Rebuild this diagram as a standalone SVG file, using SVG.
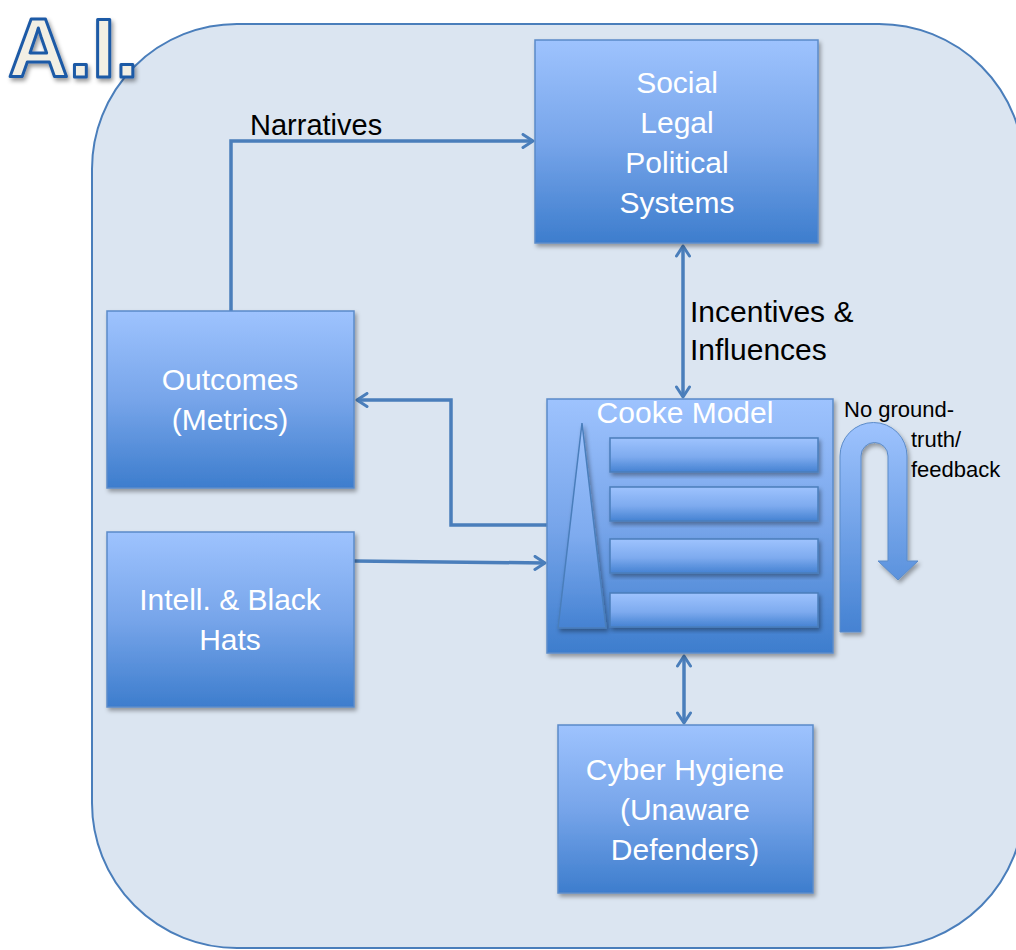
<svg xmlns="http://www.w3.org/2000/svg" width="1016" height="950" viewBox="0 0 1016 950">
<defs>
<linearGradient id="boxGrad" x1="0" y1="0" x2="0" y2="1">
<stop offset="0" stop-color="#9ec3fe"/>
<stop offset="0.5" stop-color="#77a5ea"/>
<stop offset="1" stop-color="#3d7dcd"/>
</linearGradient>
<linearGradient id="barGrad" x1="0" y1="0" x2="0" y2="1">
<stop offset="0" stop-color="#9ec3fe"/>
<stop offset="0.55" stop-color="#7eabef"/>
<stop offset="1" stop-color="#4582d2"/>
</linearGradient>
<linearGradient id="uGrad" gradientUnits="userSpaceOnUse" x1="0" y1="423" x2="0" y2="632">
<stop offset="0" stop-color="#9ec3fe"/>
<stop offset="1" stop-color="#4582d2"/>
</linearGradient>
<filter id="shadow" x="-10%" y="-10%" width="130%" height="130%">
<feDropShadow dx="2" dy="3" stdDeviation="2" flood-color="#000" flood-opacity="0.35"/>
</filter>
<filter id="titleShadow" x="-10%" y="-10%" width="130%" height="130%">
<feDropShadow dx="2" dy="3" stdDeviation="2" flood-color="#000" flood-opacity="0.4"/>
</filter>
<marker id="arr" viewBox="0 0 14 16" refX="12" refY="8" markerWidth="14" markerHeight="16" markerUnits="userSpaceOnUse" orient="auto-start-reverse">
<path d="M2,1.5 L12,8 L2,14.5" fill="none" stroke="#4a7ebb" stroke-width="3" stroke-linecap="round" stroke-linejoin="round"/>
</marker>
<style>
.box{fill:url(#boxGrad);stroke:#5b8bc9;stroke-width:1.5;filter:url(#shadow)}
.bar{fill:url(#barGrad);stroke:#4a7ebb;stroke-width:1.5;filter:url(#shadow)}
.btxt{font-family:"Liberation Sans","Open Sans",sans-serif;font-size:30px;fill:#ffffff;text-anchor:middle}
.ltxt{font-family:"Liberation Sans","Open Sans",sans-serif;fill:#000000}
.conn{fill:none;stroke:#4a7ebb;stroke-width:3.5;stroke-linejoin:miter}
</style>
</defs>
<rect width="1016" height="950" fill="#ffffff"/>
<g id="container">
<rect x="92" y="24" width="932" height="924" rx="145" ry="145" fill="#dbe5f1" stroke="#4a7ebb" stroke-width="2"/>
</g>
<g id="title">
<text x="8" y="77" font-family="Liberation Sans, Open Sans, sans-serif" font-weight="bold" font-size="84" fill="#f2efe4" stroke="#1f5aa6" stroke-width="3" stroke-linejoin="round" filter="url(#titleShadow)">A.I.</text>
</g>
<g id="connectors">
<polyline class="conn" points="231,311 231,141 533,141" marker-end="url(#arr)"/>
<line class="conn" x1="683" y1="246" x2="683" y2="397" marker-start="url(#arr)" marker-end="url(#arr)"/>
<polyline class="conn" points="547,525 451,525 451,400 357,400" marker-end="url(#arr)"/>
<line class="conn" x1="354" y1="561" x2="545" y2="563" marker-end="url(#arr)"/>
<line class="conn" x1="684" y1="656" x2="684" y2="723" marker-start="url(#arr)" marker-end="url(#arr)"/>
<text class="ltxt" x="250" y="135" font-size="29">Narratives</text>
<text class="ltxt" x="690" y="322" font-size="30">Incentives &amp;</text>
<text class="ltxt" x="690" y="360" font-size="30">Influences</text>
</g>
<g id="social">
<rect class="box" x="535" y="40" width="283" height="203"/>
<text class="btxt" x="677" y="93">Social</text>
<text class="btxt" x="677" y="133">Legal</text>
<text class="btxt" x="677" y="173">Political</text>
<text class="btxt" x="677" y="213">Systems</text>
</g>
<g id="outcomes">
<rect class="box" x="107" y="311" width="247" height="177"/>
<text class="btxt" x="230" y="390">Outcomes</text>
<text class="btxt" x="230" y="430">(Metrics)</text>
</g>
<g id="intell">
<rect class="box" x="107" y="532" width="247" height="175"/>
<text class="btxt" x="230" y="610">Intell. &amp; Black</text>
<text class="btxt" x="230" y="650">Hats</text>
</g>
<g id="cooke">
<rect class="box" x="547" y="399" width="286" height="254"/>
<text x="685" y="423" font-family="Liberation Sans, Open Sans, sans-serif" font-size="30" fill="#ffffff" text-anchor="middle">Cooke Model</text>
<polygon class="bar" points="582,423 606,628 558,628"/>
<rect class="bar" x="610" y="438" width="208" height="34"/>
<rect class="bar" x="610" y="487" width="208" height="34"/>
<rect class="bar" x="610" y="539" width="208" height="34"/>
<rect class="bar" x="610" y="593" width="208" height="34"/>
</g>
<g id="feedback">
<path d="M840,632 L840,456 A33.5,33.5 0 0 1 907,456 L907,561 L918,561 L898,580 L878,561 L888,561 L888,456 A13.5,13.5 0 0 0 861,456 L861,632 Z" fill="url(#uGrad)" stroke="#5b8bc9" stroke-width="1" filter="url(#shadow)"/>
<text class="ltxt" x="844" y="417" font-size="22">No ground-</text>
<text class="ltxt" x="911" y="447" font-size="22">truth/</text>
<text class="ltxt" x="911" y="477" font-size="22">feedback</text>
</g>
<g id="cyber">
<rect class="box" x="558" y="725" width="255" height="168"/>
<text class="btxt" x="685" y="780">Cyber Hygiene</text>
<text class="btxt" x="685" y="820">(Unaware</text>
<text class="btxt" x="685" y="860">Defenders)</text>
</g>
</svg>
